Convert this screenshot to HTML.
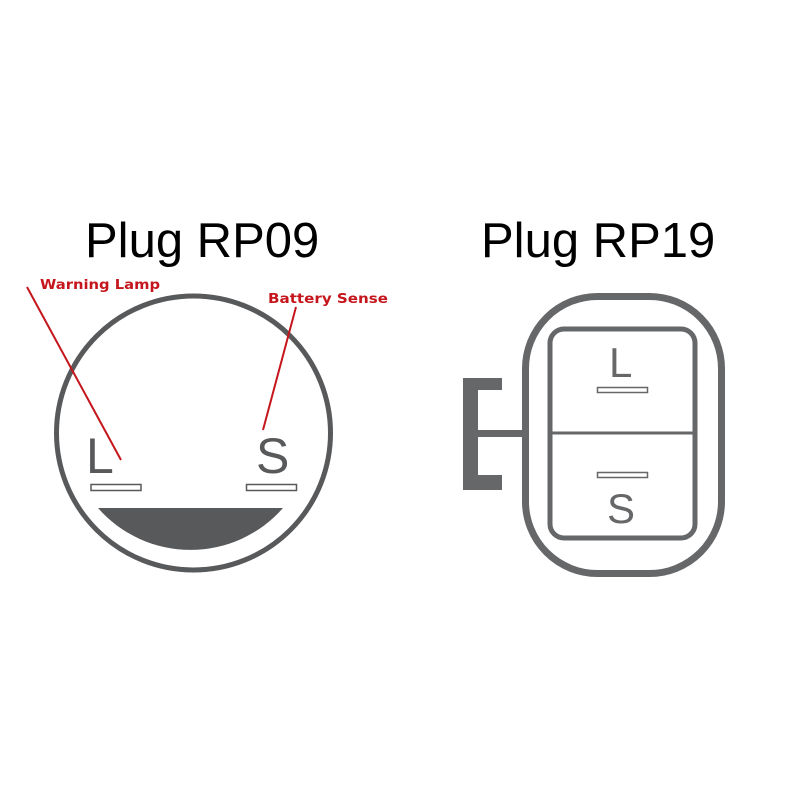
<!DOCTYPE html>
<html><head><meta charset="utf-8"><style>
html,body{margin:0;padding:0;background:#fff;}
svg{display:block;}
</style></head><body>
<svg width="800" height="800" viewBox="0 0 800 800" xmlns="http://www.w3.org/2000/svg">
<rect width="800" height="800" fill="#fff"/>
<g font-family="Liberation Sans, Arial, sans-serif">
<text x="85" y="257" font-size="49" fill="#000">Plug RP09</text>
<text x="481" y="257" font-size="49" fill="#000">Plug RP19</text>

<!-- RP09 -->
<circle cx="193.5" cy="433" r="137" fill="none" stroke="#58595b" stroke-width="5"/>
<path d="M98,508 L283,508 A123,123 0 0 1 98,508 Z" fill="#58595b"/>
<rect x="91" y="484.5" width="50" height="6" fill="#fff" stroke="#58595b" stroke-width="1.5"/>
<rect x="246.5" y="484.5" width="50" height="6" fill="#fff" stroke="#58595b" stroke-width="1.5"/>
<text x="86" y="473" font-size="50" fill="#58595b">L</text>
<text x="256" y="473" font-size="50" fill="#58595b">S</text>
<line x1="27" y1="287" x2="121" y2="460" stroke="#c4161c" stroke-width="2"/>
<line x1="296" y1="307" x2="263" y2="430" stroke="#c4161c" stroke-width="2"/>
<text x="40" y="289" font-size="13" font-weight="bold" fill="#c4161c" textLength="120" lengthAdjust="spacingAndGlyphs" font-family="DejaVu Sans, sans-serif">Warning Lamp</text>
<text x="268" y="303" font-size="13" font-weight="bold" fill="#c4161c" textLength="120" lengthAdjust="spacingAndGlyphs" font-family="DejaVu Sans, sans-serif">Battery Sense</text>

<!-- RP19 -->
<rect x="525.5" y="296.5" width="196" height="277" rx="72" fill="none" stroke="#666769" stroke-width="7"/>
<rect x="550" y="329" width="145" height="209" rx="14" fill="none" stroke="#666769" stroke-width="5"/>
<line x1="551" y1="433" x2="694" y2="433" stroke="#666769" stroke-width="3"/>
<rect x="597.5" y="387.5" width="50" height="5" fill="#fff" stroke="#666769" stroke-width="1.5"/>
<rect x="597.5" y="472.5" width="50" height="5" fill="#fff" stroke="#666769" stroke-width="1.5"/>
<text x="609" y="377" font-size="42" fill="#666769">L</text>
<text x="607" y="523" font-size="42" fill="#666769">S</text>
<path d="M463,378 H502 V390 H478 V475 H502 V490 H463 Z" fill="#666769"/>
<rect x="478" y="430" width="46" height="7" fill="#666769"/>
</g>
</svg>
</body></html>
